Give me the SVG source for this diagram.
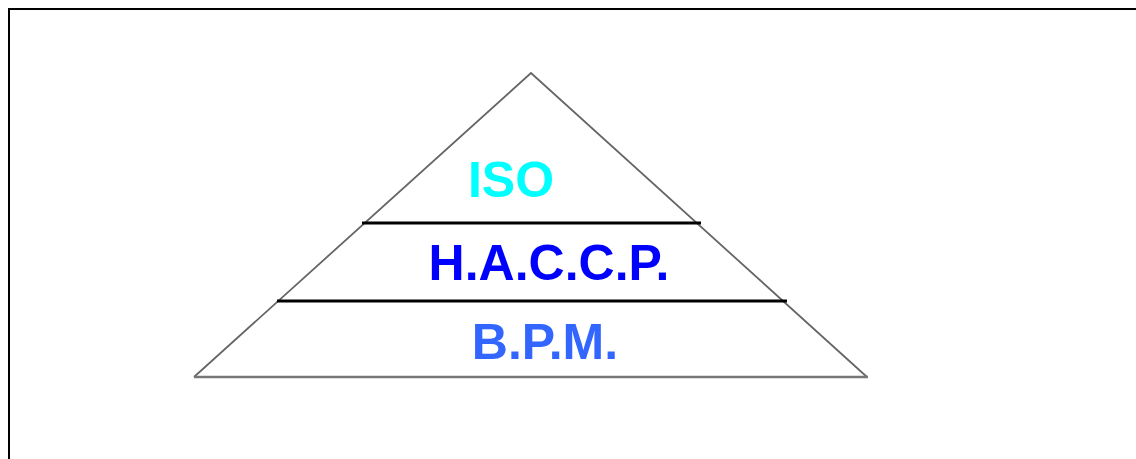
<svg xmlns="http://www.w3.org/2000/svg" width="1136" height="459" viewBox="0 0 1136 459">
<style>
.side{stroke:#666;stroke-width:1.8;fill:none}
.band{stroke:#000;stroke-width:2.8}
.lbl{font-family:"Liberation Sans",Arial,sans-serif;font-weight:bold;font-size:50px;text-anchor:middle}
</style>
<rect x="0" y="0" width="1136" height="459" fill="#fff"/>
<rect x="9" y="9" width="1140" height="460" fill="none" stroke="#000" stroke-width="2"/>
<g id="pyramid">
<polyline class="side" points="194,377 531,73 867,377"/>
<line x1="194" y1="377" x2="868" y2="377" stroke="#777" stroke-width="2.6"/>
</g>
<g id="connectors">
<line class="band" x1="362" y1="223" x2="701" y2="223"/>
<line class="band" x1="277" y1="301" x2="787" y2="301"/>
</g>
<g id="iso"><text class="lbl" x="511" y="197" fill="#00FFFF">ISO</text></g>
<g id="haccp"><text class="lbl" x="549" y="280" fill="#0000FF">H.A.C.C.P.</text></g>
<g id="bpm"><text class="lbl" x="545" y="359" fill="#3366FF">B.P.M.</text></g>
</svg>
